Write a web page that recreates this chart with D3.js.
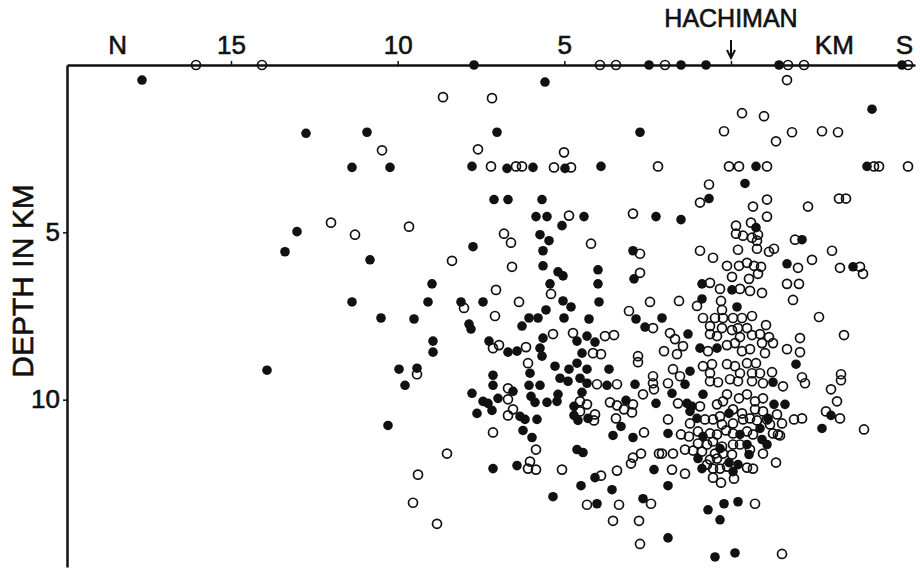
<!DOCTYPE html>
<html>
<head>
<meta charset="utf-8">
<script src="https://cdn.jsdelivr.net/npm/d3@7/dist/d3.min.js"></script>
<style>
  body { margin: 0; background: #fff; }
  svg text { font-family: "Liberation Sans", "DejaVu Sans", sans-serif; fill: #111; stroke: #111; stroke-width: 0.6px; }
</style>
</head>
<body>
<svg id="chart" width="920" height="570"></svg>
<script>
// distance from Hachiman in km (north +), depth in km
var filledEvents = [
  [7.71,0],[2.46,0],[1.50,0],[0.75,0],[-1.44,0],[-5.13,0],
  [17.67,0.45],[5.58,0.51],
  [12.75,2.04],[13.02,4.98],[13.38,5.58],[13.92,9.12],
  [10.92,2.01],[7.02,2.01],[11.37,3.06],[10.23,3.06],[7.77,3.03],[6.72,3.09],[7.11,4.02],[6.69,4.02],
  [7.74,5.43],[10.83,5.82],[8.97,6.54],[11.37,7.08],[9.09,7.08],[8.1,7.08],[7.44,7.08],[10.5,7.56],
  [9.51,7.59],[7.86,7.74],[7.8,7.89],[6.27,7.8],
  [8.94,8.25],[8.94,8.58],[7.26,8.25],[6.69,8.58],[9.96,9.09],[9.42,9.06],[9.78,9.57],[7.14,9.27],
  [7.14,9.57],[6.54,9.75],[7.77,9.81],[7.44,10.05],[7.29,10.11],[6.99,9.96],[7.17,10.32],[7.62,10.41],
  [10.29,10.77],[7.14,12.06],[6.42,11.97],
  [2.73,2.01],[5.94,3.06],[4.98,3.09],[3.9,3.03],[5.67,4.02],[5.85,4.53],[5.52,4.53],[5.07,4.8],
  [4.41,4.53],[2.25,4.53],[5.73,5.07],[5.46,5.25],[5.64,5.55],[2.94,5.55],[5.64,6.0],[5.19,6.18],
  [5.04,6.3],[3.99,6.12],[3.99,6.54],[2.91,6.39],[5.43,6.54],[5.04,7.05],[4.8,7.23],[3.96,7.08],
  [5.55,7.32],[2.85,7.59],[6.06,7.56],[5.79,7.56],[5.01,7.56],[4.26,7.59],[2.58,7.83],
  [5.64,8.16],[5.73,8.46],[6.42,8.55],[5.67,8.7],[4.62,8.25],[4.32,8.1],[4.08,8.28],[4.47,8.61],
  [4.62,8.91],[5.28,9.0],[6.03,9.21],[4.86,9.09],[4.32,9.09],[3.66,9.09],[5.13,9.36],[4.89,9.45],
  [4.53,9.36],[4.32,9.51],[3.72,9.57],[2.88,9.54],[6.06,9.57],[5.73,9.57],[4.47,9.78],[6.0,9.9],
  [5.88,10.08],[5.52,10.08],[5.22,10.05],[5.19,9.84],[3.15,10.02],[2.25,10.11],[4.71,10.2],[4.71,10.47],
  [4.59,10.62],[4.29,10.56],[6.33,10.5],[6.18,10.59],[5.82,10.59],[6.24,10.92],[5.97,11.13],[3.3,10.8],
  [3.54,11.07],[2.94,11.13],[4.62,11.49],[4.44,11.58],[4.08,12.33],[2.31,12.09],[4.5,12.57],[3.57,12.69],
  [5.34,12.9],[2.64,12.96],[4.02,13.11],
  [-0.75,3.03],[-0.42,3.54],[0.66,3.99],[1.5,4.62],[-0.75,4.86],[-1.68,5.94],
  [0.87,6.54],[-0.03,6.72],[0.87,6.99],[-0.18,7.23],[2.07,7.56],[1.29,8.04],[0.93,8.46],[0.42,8.46],
  [1.23,9.15],[-1.26,9.48],[1.38,9.54],[1.77,9.81],
  [1.32,10.11],[1.17,10.2],[1.23,10.35],[0.84,9.84],[-1.29,10.14],[-1.62,10.14],[0.06,10.41],[1.02,10.56],
  [-0.87,10.86],[-1.11,10.56],[1.89,11.01],[0.84,11.1],[-0.27,11.04],[-0.93,11.19],[-1.08,11.34],[0.33,11.46],
  [-0.48,11.34],[0.99,11.76],[-0.54,11.64],[0.06,11.88],[-0.21,11.94],[0.87,12.06],[-0.06,12.15],[1.89,12.57],
  [0.69,13.29],[0.21,13.11],[-0.21,13.05],[0.33,13.59],[1.89,14.13],[0.48,14.7],[-0.12,14.58],
  [-4.23,1.32],[-4.08,3.03],[-2.13,5.22],[-3.66,6.03],[-1.95,8.94],[-3.0,10.47],[-2.73,10.86]
];

var openEvents = [
  [16.05,0],[14.07,0],[3.93,0],[3.45,0],[1.98,0],[-1.71,0],[-2.19,0],[-5.31,0],
  [-1.68,0.45],[12.0,4.71],
  [8.64,0.96],[7.17,0.99],[10.47,2.55],[7.59,2.52],[7.2,3.03],[6.45,3.03],[11.28,5.07],[9.66,4.83],
  [6.81,5.04],[6.6,5.31],[8.37,5.85],[6.57,6.03],[7.05,6.72],[8.01,7.26],[6.36,7.08],[7.08,7.5],
  [7.14,8.46],[6.96,8.37],[6.15,8.43],[9.42,9.24],[6.69,9.66],[6.69,9.99],[6.54,10.29],[6.69,10.47],
  [7.14,10.98],[8.52,11.61],[9.39,12.24],[9.54,13.08],[8.82,13.71],
  [5.01,2.61],[6.27,3.03],[5.31,3.06],[4.8,3.06],[2.19,3.03],[4.86,4.5],[2.94,4.44],[4.2,5.34],
  [2.73,5.64],[2.73,6.21],[5.4,6.84],[2.43,7.08],[3.06,7.35],[2.34,7.86],
  [5.34,8.04],[4.74,8.01],[3.78,8.1],[3.51,8.07],[4.14,8.61],[3.9,8.64],[2.79,8.7],[2.79,8.88],
  [6.09,8.91],[4.02,9.54],[3.42,9.54],[2.34,9.3],[2.34,9.51],[2.31,9.69],[2.64,9.84],[3.63,10.08],
  [3.42,10.17],[2.94,10.14],[4.53,10.05],[4.32,10.14],[4.53,10.35],[4.08,10.44],[4.11,10.62],[3.21,10.29],
  [2.97,10.38],[3.45,10.56],[2.61,10.98],[5.85,11.49],[2.7,11.61],[2.94,11.73],[3.0,11.91],[2.16,11.61],
  [6.03,11.85],[6.09,12.06],[5.85,12.09],[5.07,12.09],[3.9,12.27],[3.42,12.12],[4.32,13.14],[3.36,13.14],
  [2.4,13.11],[3.54,13.62],[2.76,13.62],[2.73,14.31],
  [-0.33,1.44],[-0.99,1.53],[0.21,1.98],[-1.83,2.01],[-1.35,2.28],[0.06,3.03],[-0.24,3.03],[-1.08,3.03],
  [0.66,3.57],[0.93,4.11],[-1.08,4.02],[-0.66,4.23],[-1.08,4.53],[-0.15,4.8],[-0.6,4.71],[-0.15,5.04],
  [-0.36,5.1],[-0.63,5.16],[-0.81,5.07],[-0.78,5.25],[0.93,5.55],[0.54,5.76],[-0.21,5.52],[-0.78,5.49],
  [-1.14,5.58],[-1.29,5.49],[0.12,6.0],[-0.24,6.0],[-0.48,5.91],[-0.69,6.0],[-0.9,6.03],
  [-0.03,6.33],[-0.54,6.39],[-0.81,6.24],[0.63,6.51],[0.33,6.69],[-0.27,6.69],[-0.57,6.75],[-0.93,6.81],
  [1.56,7.05],[1.02,7.2],[0.3,7.05],[0.27,7.32],[0.84,7.56],[0.48,7.56],[0.24,7.56],[-0.06,7.56],
  [-0.33,7.56],[-0.63,7.5],[0.63,7.8],[0.27,7.86],[-0.03,7.92],[-0.21,7.86],[-0.48,7.86],[-1.05,7.77],
  [1.83,8.01],[0.63,8.04],[0.42,8.1],[-0.27,8.13],[-0.63,8.07],[-0.87,8.04],[-1.14,8.13],[-1.68,8.49],
  [1.68,8.19],[1.44,8.4],[1.62,8.64],[2.01,8.55],[0.69,8.55],[0.12,8.37],[-0.12,8.31],[-0.33,8.55],
  [-0.57,8.49],[-0.93,8.31],[-1.02,8.61],[-1.26,8.31],[1.74,9.09],[1.53,9.3],[1.89,9.51],[0.84,9.0],
  [0.57,8.94],[0.63,9.21],[0.12,8.94],[-0.12,9.0],[-0.27,9.21],[-0.48,8.91],[-0.75,8.91],[-0.63,9.21],
  [-0.87,9.21],[-1.23,9.18],[0.63,9.45],[0.39,9.48],[0.03,9.39],[-0.21,9.45],[-0.63,9.45],[-0.96,9.51],
  [-1.56,9.6],
  [1.59,10.11],[0.93,10.2],[0.42,10.14],[0.24,10.05],[0.12,9.84],[-0.24,9.96],[-0.48,9.84],[-0.72,10.05],
  [-0.96,9.96],[-0.72,10.29],[-0.96,10.35],[-0.06,10.29],[-0.33,10.41],[1.89,10.59],[1.23,10.71],[0.78,10.59],
  [0.54,10.59],[0.33,10.5],[0.27,10.74],[-0.06,10.71],[-0.36,10.59],[-0.57,10.56],[-0.78,10.62],[-1.08,10.59],
  [-1.38,10.44],[-1.53,10.71],[-1.17,10.74],[1.5,11.04],[1.26,11.1],[0.99,10.95],[0.63,11.01],[0.42,11.04],
  [0.15,10.92],[-0.06,11.01],[-0.48,10.95],[-0.66,11.04],[-1.26,11.01],[-1.41,11.04],[0.99,11.31],[0.72,11.34],
  [0.54,11.25],[0.27,11.4],[-0.06,11.34],[-0.27,11.34],[-0.57,11.49],[-0.96,11.61],[2.07,11.61],[1.74,11.61],
  [1.38,11.49],[1.14,11.52],[0.87,11.55],[0.48,11.61],[0.24,11.61],[-0.03,11.64],[0.63,11.79],[0.42,11.76],
  [-1.35,11.88],[0.72,11.94],[0.54,12.06],[0.33,12.06],[0.12,12.0],[-0.48,12.03],[-0.66,12.06],[0.54,12.33],
  [0.3,12.48],[-0.09,12.36],[1.77,12.09],[1.38,12.21],[-0.72,13.11],[-1.53,14.61],
  [-2.73,1.98],[-3.21,2.01],[-4.29,3.03],[-4.44,3.03],[-5.31,3.03],[-2.31,4.23],[-3.24,3.99],[-3.45,3.99],
  [-1.92,5.22],[-3.03,5.55],[-2.01,6.06],[-2.43,5.82],[-3.27,6.06],[-3.87,6.03],[-3.96,6.24],[-1.68,6.54],
  [-2.04,6.54],[-1.86,7.02],[-2.64,7.53],[-3.39,8.07],[-2.07,8.16],[-2.07,8.58],[-2.13,9.33],[-2.22,9.51],
  [-3.3,9.24],[-3.3,9.42],[-3.0,9.69],[-3.18,10.05],[-1.89,10.59],[-2.13,10.56],[-2.85,10.35],[-3.27,10.56],
  [-3.99,10.89],[-1.47,11.07]
];

var distTicks = [15, 10, 5, 0];
var depthTicks = [5, 10];
var endLabels = [["N", 18.4], ["KM", -3.1], ["S", -5.2]];
var siteName = "HACHIMAN";
var siteDist = 0;
var yTitle = "DEPTH IN KM";

const svg = d3.select('#chart');

const xScale = d3.scaleLinear().domain([19.92, -5.52]).range([67, 915]);
const yScale = d3.scaleLinear().domain([0, 15]).range([65, 567]);

// top axis
const xAxis = d3.axisTop(xScale)
    .tickValues(distTicks)
    .tickSize(4)
    .tickSizeOuter(0)
    .tickPadding(7)
    .tickFormat(d => d === 0 ? "" : d);
const xAxisG = svg.append('g')
    .attr('transform', `translate(0,${yScale(0)})`)
    .call(xAxis);
xAxisG.select('.domain').attr('stroke', '#111').attr('stroke-width', 2.5);
xAxisG.selectAll('.tick line').attr('stroke', '#111').attr('stroke-width', 1.5);
xAxisG.selectAll('.tick text')
    .attr('font-size', 26)
    .attr('font-family', '"Liberation Sans", sans-serif')
    .attr('fill', '#111');

// left axis
const yAxis = d3.axisLeft(yScale)
    .tickValues(depthTicks)
    .tickSize(4)
    .tickSizeOuter(0)
    .tickPadding(3);
const yAxisG = svg.append('g')
    .attr('transform', `translate(${xScale.range()[0]},0)`)
    .call(yAxis);
yAxisG.select('.domain').attr('stroke', '#111').attr('stroke-width', 2.5);
yAxisG.selectAll('.tick line').attr('stroke', '#111').attr('stroke-width', 1.5);
yAxisG.selectAll('.tick text')
    .attr('font-size', 26)
    .attr('font-family', '"Liberation Sans", sans-serif')
    .attr('fill', '#111');

// N / KM / S
svg.selectAll('.endLabel')
    .data(endLabels)
    .enter().append('text')
    .attr('class', 'endLabel')
    .attr('x', d => xScale(d[1]))
    .attr('y', yScale(0) - 11)
    .attr('text-anchor', 'middle')
    .attr('font-size', 26)
    .text(d => d[0]);

// Hachiman marker
svg.append('text')
    .attr('x', xScale(siteDist))
    .attr('y', 27)
    .attr('text-anchor', 'middle')
    .attr('font-size', 25)
    .text(siteName);
svg.append('path')
    .attr('d', `M${xScale(siteDist)},40V58M${xScale(siteDist) - 4},50L${xScale(siteDist)},58L${xScale(siteDist) + 4},50`)
    .attr('fill', 'none')
    .attr('stroke', '#111')
    .attr('stroke-width', 2);

// y title
svg.append('text')
    .attr('transform', `translate(33,${281}) rotate(-90)`)
    .attr('text-anchor', 'middle')
    .attr('font-size', 30)
    .text(yTitle);

// events
svg.append('g').selectAll('circle')
    .data(openEvents)
    .enter().append('circle')
    .attr('cx', d => xScale(d[0]))
    .attr('cy', d => yScale(d[1]))
    .attr('r', 4.5)
    .attr('fill', 'none')
    .attr('stroke', '#111')
    .attr('stroke-width', 1.7);

svg.append('g').selectAll('circle')
    .data(filledEvents)
    .enter().append('circle')
    .attr('cx', d => xScale(d[0]))
    .attr('cy', d => yScale(d[1]))
    .attr('r', 4.8)
    .attr('fill', '#111');
</script>
</body>
</html>
